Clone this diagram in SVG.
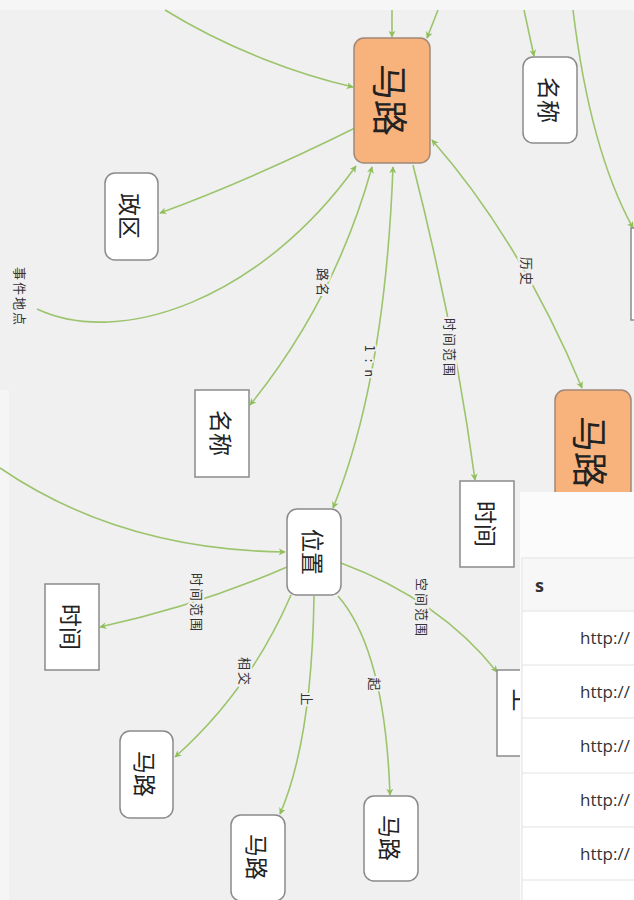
<svg xmlns="http://www.w3.org/2000/svg" width="634" height="900" viewBox="0 0 634 900">
<defs>
<style>
.e{fill:none;stroke:#9cc46c;stroke-width:1.6}
.n rect{fill:#fff;stroke:#8a8a8a;stroke-width:1.5}
.o rect{fill:#f8b27c;stroke:#a08878;stroke-width:1.5}
.t{font-family:"Noto Sans CJK SC","Liberation Sans",sans-serif;fill:#222;text-anchor:middle;dominant-baseline:central}
.l{font-family:"Noto Sans CJK SC","Liberation Sans",sans-serif;font-size:13px;letter-spacing:2px;fill:#333;text-anchor:middle;dominant-baseline:central;stroke:#f0f0f0;stroke-width:4;paint-order:stroke}
.tb{font-family:"Open Sans","Liberation Sans",sans-serif;fill:#333}
</style>
<marker id="a" viewBox="0 0 10 10" refX="9" refY="5" markerWidth="7" markerHeight="7" orient="auto-start-reverse" markerUnits="userSpaceOnUse">
<path d="M0,0 L10,5 L0,10 L3,5 z" fill="#8fbf5a"/>
</marker>
</defs>
<rect width="634" height="900" fill="#f0f0f0"/>
<rect x="0" y="0" width="634" height="10" fill="#f6f6f6"/>
<rect x="0" y="390" width="9" height="510" fill="#f5f5f5"/>
<g id="connectors">
<path class="e" d="M165,10 C230,50 300,75 353,87" marker-end="url(#a)"/>
<path class="e" d="M392,10 L392,37" marker-end="url(#a)"/>
<path class="e" d="M438,10 L427,38" marker-end="url(#a)"/>
<path class="e" d="M355,128 Q250,180 160,213" marker-end="url(#a)"/>
<path class="e" d="M37,309 C120,348 260,300 356,166" marker-end="url(#a)"/>
<path class="e" d="M372,167 Q335,300 250,405" marker-start="url(#a)" marker-end="url(#a)"/>
<path class="e" d="M393,167 Q385,380 333,508" marker-start="url(#a)" marker-end="url(#a)"/>
<path class="e" d="M413,165 Q455,330 475,480" marker-end="url(#a)"/>
<path class="e" d="M432,140 Q520,240 582,388" marker-start="url(#a)" marker-end="url(#a)"/>
<path class="e" d="M524,10 L534,56" marker-end="url(#a)"/>
<path class="e" d="M573,10 Q590,150 633,228" marker-end="url(#a)"/>
<path class="e" d="M0,468 Q120,550 285,552" marker-end="url(#a)"/>
<path class="e" d="M287,567 Q200,605 100,627" marker-end="url(#a)"/>
<path class="e" d="M291,595 Q250,690 175,757" marker-end="url(#a)"/>
<path class="e" d="M314,596 Q312,740 280,814" marker-end="url(#a)"/>
<path class="e" d="M338,596 Q385,650 390,795" marker-end="url(#a)"/>
<path class="e" d="M341,563 Q440,600 497,672" marker-end="url(#a)"/>
<text class="l" transform="translate(20,297) rotate(90)">事件地点</text>
<text class="l" transform="translate(323,283) rotate(90)">路名</text>
<text class="l" transform="translate(370,362) rotate(90)">1 : n</text>
<text class="l" transform="translate(450,348) rotate(90)">时间范围</text>
<text class="l" transform="translate(527,272) rotate(90)">历史</text>
<text class="l" transform="translate(197,603) rotate(90)">时间范围</text>
<text class="l" transform="translate(245,672) rotate(90)">相交</text>
<text class="l" transform="translate(307,700) rotate(90)">止</text>
<text class="l" transform="translate(375,685) rotate(90)">起</text>
<text class="l" transform="translate(422,608) rotate(90)">空间范围</text>
</g>
<g id="road-main" class="o"><rect x="354" y="38" width="76" height="125" rx="10"/><text class="t" font-size="36" transform="translate(392,100) rotate(90)">马路</text></g>
<g id="name-top" class="n"><rect x="523" y="57" width="54" height="86" rx="10"/><text class="t" font-size="23" transform="translate(550,100) rotate(90)">名称</text></g>
<g id="right-edge-node" class="n"><rect x="631" y="228" width="60" height="92" rx="0"/></g>
<g id="district" class="n"><rect x="105" y="173" width="53" height="87" rx="10"/><text class="t" font-size="23" transform="translate(131,216) rotate(90)">政区</text></g>
<g id="name-sq" class="n"><rect x="195" y="390" width="54" height="87" rx="0"/><text class="t" font-size="23" transform="translate(222,433) rotate(90)">名称</text></g>
<g id="road-right" class="o"><rect x="555" y="390" width="76" height="125" rx="10"/><text class="t" font-size="36" transform="translate(592,452) rotate(90)">马路</text></g>
<g id="time-1" class="n"><rect x="460" y="481" width="54" height="86" rx="0"/><text class="t" font-size="23" transform="translate(487,524) rotate(90)">时间</text></g>
<g id="position" class="n"><rect x="287" y="509" width="54" height="86" rx="10"/><text class="t" font-size="23" transform="translate(314,552) rotate(90)">位置</text></g>
<g id="time-2" class="n"><rect x="45" y="584" width="54" height="86" rx="0"/><text class="t" font-size="23" transform="translate(72,627) rotate(90)">时间</text></g>
<g id="road-cross" class="n"><rect x="120" y="731" width="53" height="87" rx="10"/><text class="t" font-size="23" transform="translate(146,774) rotate(90)">马路</text></g>
<g id="road-end" class="n"><rect x="231" y="815" width="54" height="86" rx="10"/><text class="t" font-size="23" transform="translate(258,857) rotate(90)">马路</text></g>
<g id="road-start" class="n"><rect x="364" y="796" width="54" height="85" rx="10"/><text class="t" font-size="23" transform="translate(391,838) rotate(90)">马路</text></g>
<g id="partial-node" class="n"><rect x="497" y="670" width="54" height="86" rx="0"/><text class="t" font-size="23" transform="translate(524,700) rotate(90)">上</text></g>
<g id="table">
<rect x="520" y="492" width="120" height="410" fill="#fbfbfb"/>
<rect x="522" y="558" width="120" height="350" fill="#fff" stroke="#e2e2e2"/>
<rect x="523" y="559" width="118" height="52" fill="#f7f7f7"/>
<g stroke="#e2e2e2" stroke-width="1">
<line x1="522" y1="611" x2="634" y2="611"/>
<line x1="522" y1="665" x2="634" y2="665"/>
<line x1="522" y1="718" x2="634" y2="718"/>
<line x1="522" y1="773" x2="634" y2="773"/>
<line x1="522" y1="827" x2="634" y2="827"/>
<line x1="522" y1="880" x2="634" y2="880"/>
</g>
<text class="tb" x="535" y="592" font-size="18" font-weight="bold">s</text>
<text class="tb" x="580" y="644" font-size="17">http://</text>
<text class="tb" x="580" y="698" font-size="17">http://</text>
<text class="tb" x="580" y="752" font-size="17">http://</text>
<text class="tb" x="580" y="806" font-size="17">http://</text>
<text class="tb" x="580" y="860" font-size="17">http://</text>
<text class="tb" x="580" y="912" font-size="17">http://</text>
</g>
</svg>
